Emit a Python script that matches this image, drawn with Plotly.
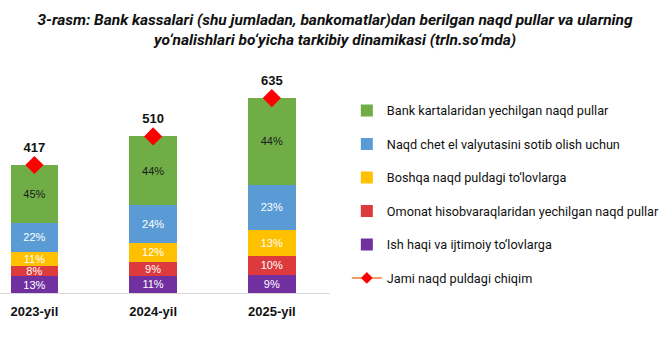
import plotly.graph_objects as go

years = ["2023-yil", "2024-yil", "2025-yil"]
totals = [417, 510, 635]

series_names = [
    "Ish haqi va ijtimoiy to‘lovlarga",
    "Omonat hisobvaraqlaridan yechilgan naqd pullar",
    "Boshqa naqd puldagi to‘lovlarga",
    "Naqd chet el valyutasini sotib olish uchun",
    "Bank kartalaridan yechilgan naqd pullar",
]
share_purple = [13, 11, 9]
share_red = [8, 9, 10]
share_yellow = [11, 12, 13]
share_blue = [22, 24, 23]
share_green = [45, 44, 44]
shares = [share_purple, share_red, share_yellow, share_blue, share_green]
colors = ["#7030A0", "#DC3A3C", "#FFC000", "#5B9BD5", "#70AD47"]
text_colors = ["white", "white", "white", "white", "#1a1a1a"]
ranks = [5, 4, 3, 2, 1]
total_name = "Jami naqd puldagi chiqim"

fig = go.Figure()
for i, (name, sh) in enumerate(zip(series_names, shares)):
    vals = []
    for j in range(len(years)):
        s = sum(x[j] for x in shares)
        vals.append(totals[j] * sh[j] / s)
    fig.add_trace(go.Bar(
        x=years, y=vals, name=name,
        marker=dict(color=colors[i], line=dict(width=0)),
        text=[f"{v}%" for v in sh], textposition="inside",
        insidetextanchor="middle", constraintext="none",
        textfont=dict(family="Liberation Sans, Arial", size=11, color=text_colors[i]),
        width=0.4, legendgroup=name, legendrank=ranks[i],
        hoverinfo="skip",
    ))

fig.add_trace(go.Scatter(
    x=years, y=totals, mode="markers+text", showlegend=False,
    marker=dict(symbol="diamond", size=14, color="#FF0000"),
    text=[str(t) for t in totals], textposition="top center",
    textfont=dict(family="Liberation Sans, Arial", size=13, color="#111111", weight="bold"),
    cliponaxis=False,
))
fig.add_trace(go.Scatter(
    x=[None], y=[None], mode="lines+markers", name=total_name,
    line=dict(color="#ED7D31", width=1.5),
    marker=dict(symbol="diamond", size=9, color="#FF0000"),
    legendgroup=total_name, legendrank=6,
))

fig.update_layout(
    width=670, height=352,
    margin=dict(l=0, r=340, t=60, b=59),
    paper_bgcolor="white", plot_bgcolor="white",
    barmode="stack",
    title=dict(
        text="3-rasm: Bank kassalari (shu jumladan, bankomatlar)dan berilgan naqd pullar va ularning<br>yo‘nalishlari bo‘yicha tarkibiy dinamikasi (trln.so‘mda)",
        x=0.5, xanchor="center", xref="container", y=0.93, yanchor="top",
        font=dict(family="Roboto", size=15.5, color="#111111", style="italic", weight="bold"),
    ),
    xaxis=dict(
        range=[-0.29, 2.49], showgrid=False, showline=True, linecolor="#d9d9d9",
        linewidth=1, ticks="", ticklabelstandoff=6,
        tickfont=dict(family="Liberation Sans, Arial", size=13, color="#111111", weight="bold"),
        fixedrange=True,
    ),
    yaxis=dict(range=[0, 759], visible=False, fixedrange=True),
    legend=dict(
        x=1.051, xanchor="left", y=0.847, yanchor="top",
        traceorder="grouped", tracegroupgap=14,
        font=dict(family="Roboto", size=12.7, color="#111111"),
        bgcolor="rgba(0,0,0,0)",
    ),
    showlegend=True,
)
fig.write_html("out.html")
